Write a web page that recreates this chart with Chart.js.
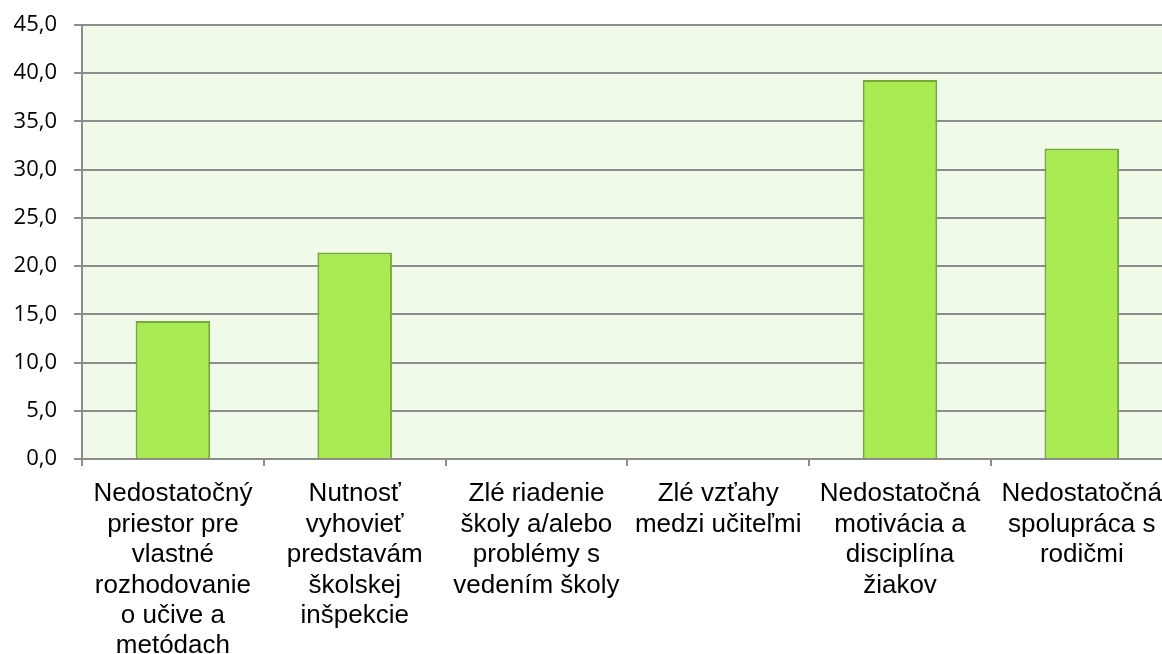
<!DOCTYPE html>
<html>
<head>
<meta charset="utf-8">
<script src="https://cdn.jsdelivr.net/npm/chart.js@4/dist/chart.umd.min.js"></script>
<style>
html,body{margin:0;padding:0;background:#fff;overflow:hidden;width:1162px;height:654px;}
canvas{display:block;}
</style>
</head>
<body>
<canvas id="c" width="1175" height="654"></canvas>
<script>
const categories = [
  ["Nedostatočný","priestor pre","vlastné","rozhodovanie","o učive a","metódach"],
  ["Nutnosť","vyhovieť","predstavám","školskej","inšpekcie"],
  ["Zlé riadenie","školy a/alebo","problémy s","vedením školy"],
  ["Zlé vzťahy","medzi učiteľmi"],
  ["Nedostatočná","motivácia a","disciplína","žiakov"],
  ["Nedostatočná","spolupráca s","rodičmi"]
];
const values = [14.3, 21.4, 0, 0, 39.3, 32.2];
const yMin = 0, yMax = 45, yStep = 5;

const plotBg = {
  id: 'plotBg',
  beforeDraw(chart) {
    const a = chart.chartArea, ctx = chart.ctx;
    ctx.save();
    ctx.fillStyle = '#EFFAE9';
    ctx.fillRect(a.left, a.top, a.right - a.left, a.bottom - a.top);
    ctx.restore();
  }
};

new Chart(document.getElementById('c'), {
  type: 'bar',
  data: {
    labels: categories,
    datasets: [{
      data: values,
      backgroundColor: '#AAEA53',
      borderColor: '#76AA36',
      borderWidth: 2,
      categoryPercentage: 1,
      barPercentage: 0.41
    }]
  },
  options: {
    responsive: false,
    animation: false,
    layout: { padding: { top: 25, left: 0, right: 0, bottom: 0 } },
    plugins: { legend: { display: false }, tooltip: { enabled: false } },
    scales: {
      x: {
        offset: true,
        grid: { display: true, drawOnChartArea: false, drawTicks: true, tickLength: 7, color: '#8C8C8C', lineWidth: 2, offset: true },
        border: { display: true, color: '#8C8C8C', width: 2 },
        ticks: {
          color: '#000',
          autoSkip: false,
          maxRotation: 0,
          minRotation: 0,
          padding: 13,
          font: { family: '"Liberation Sans", Arial, sans-serif', size: 26, lineHeight: 1.17 }
        },
        afterFit(scale) { scale.height = 195; }
      },
      y: {
        min: yMin, max: yMax,
        grid: { color: '#8C8C8C', lineWidth: 2, tickLength: 8 },
        border: { display: true, color: '#8C8C8C', width: 2 },
        ticks: {
          stepSize: yStep,
          color: '#000',
          padding: 17,
          font: { family: '"Open Sans", sans-serif', size: 22 },
          callback: v => v.toFixed(1).replace('.', ',')
        },
        afterFit(scale) { scale.width = 82; scale.paddingTop = 10; scale.paddingBottom = 10; }
      }
    }
  },
  plugins: [plotBg]
});
</script>
</body>
</html>
